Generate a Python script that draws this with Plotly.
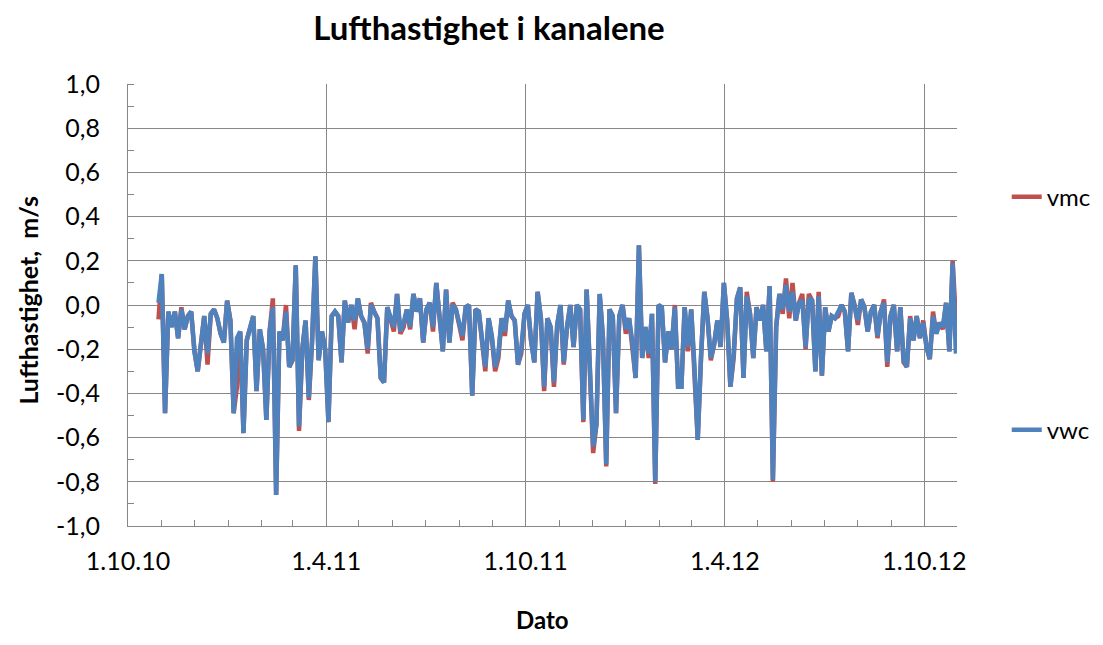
import pandas as pd
import plotly.graph_objects as go

# Dagsverdier lest av figuren, hver 3. dag fra 29.10.2010
start_date = "2010-10-29"
step = "3D"

vwc = [
    0.01, 0.14, -0.49, -0.03, -0.10, -0.03, -0.15, -0.02, -0.11, -0.05,
    -0.03, -0.21, -0.30, -0.18, -0.05, -0.22, -0.04, -0.02, -0.06, -0.13,
    -0.17, 0.02, -0.07, -0.49, -0.15, -0.12, -0.58, -0.16, -0.10, -0.05,
    -0.39, -0.11, -0.20, -0.52, -0.12, -0.01, -0.86, -0.12, -0.16, -0.03,
    -0.28, -0.25, 0.18, -0.55, -0.20, -0.07, -0.42, -0.16, 0.22, -0.25,
    -0.12, -0.20, -0.53, -0.05, -0.03, -0.05, -0.26, 0.02, -0.08, 0.00,
    -0.07, 0.03, -0.05, -0.08, -0.20, 0.00, -0.03, -0.06, -0.33, -0.35,
    -0.01, -0.06, -0.10, 0.05, -0.12, -0.08, -0.02, -0.10, 0.05, -0.03,
    0.03, -0.17, -0.02, 0.01, -0.10, 0.10, -0.04, -0.21, 0.07, -0.17,
    0.00, -0.02, -0.08, -0.14, -0.01, 0.00, -0.41, -0.02, -0.03, -0.16,
    -0.28, -0.06, -0.14, -0.28, -0.22, -0.06, -0.12, 0.02, -0.05, -0.07,
    -0.27, -0.20, -0.04, 0.00, -0.16, -0.26, 0.06, -0.06, -0.37, -0.06,
    -0.10, -0.35, -0.09, 0.00, -0.26, -0.10, 0.00, -0.19, 0.00, -0.02,
    -0.52, 0.07, -0.27, -0.64, -0.54, 0.05, -0.15, -0.72, -0.02, -0.05,
    -0.49, -0.05, 0.00, -0.11, -0.06, -0.17, -0.33, 0.27, -0.24, -0.10,
    -0.22, -0.04, -0.80, 0.00, -0.01, -0.26, -0.12, -0.20, -0.01, -0.37,
    -0.37, -0.01, -0.19, -0.02, -0.28, -0.61, -0.24, 0.06, -0.06, -0.24,
    -0.18, -0.07, -0.19, 0.10, -0.07, -0.37, -0.22, 0.03, 0.08, -0.33,
    0.04, -0.04, -0.24, -0.01, -0.07, 0.00, -0.21, 0.085, -0.79, -0.10,
    0.05, -0.02, 0.09, -0.03, 0.06, -0.07, 0.01, 0.02, -0.19, 0.03,
    0.02, -0.30, 0.04, -0.32, -0.01, -0.12, -0.05, -0.06, -0.03, 0.00,
    -0.03, -0.21, 0.055, 0.00, -0.07, 0.025, -0.01, -0.12, -0.03, 0.00,
    -0.14, -0.03, 0.01, -0.26, -0.05, 0.00, -0.21, -0.01, -0.25, -0.28,
    -0.06, -0.16, -0.05, -0.15, -0.08, -0.19, -0.245, -0.05, -0.13, -0.08,
    -0.10, 0.01, -0.21, 0.19, -0.22,
]

vmc = [
    -0.065, 0.14, -0.49, -0.03, -0.10, -0.03, -0.15, -0.01, -0.11, -0.05,
    -0.03, -0.21, -0.30, -0.18, -0.05, -0.27, -0.04, -0.02, -0.06, -0.13,
    -0.17, 0.02, -0.07, -0.49, -0.37, -0.12, -0.58, -0.16, -0.10, -0.05,
    -0.39, -0.11, -0.20, -0.52, -0.12, 0.03, -0.86, -0.12, -0.16, 0.00,
    -0.28, -0.25, 0.18, -0.57, -0.20, -0.07, -0.43, -0.16, 0.22, -0.25,
    -0.12, -0.20, -0.53, -0.05, -0.03, -0.05, -0.26, 0.02, -0.08, 0.00,
    -0.11, 0.03, -0.05, -0.08, -0.22, 0.01, -0.03, -0.06, -0.33, -0.35,
    -0.01, -0.06, -0.12, 0.05, -0.13, -0.10, -0.02, -0.11, 0.05, -0.03,
    0.03, -0.17, -0.02, 0.01, -0.12, 0.10, -0.04, -0.21, 0.07, -0.17,
    0.01, -0.02, -0.09, -0.16, -0.01, 0.00, -0.41, -0.02, -0.03, -0.18,
    -0.30, -0.06, -0.15, -0.30, -0.24, -0.06, -0.14, 0.02, -0.05, -0.07,
    -0.27, -0.22, -0.04, 0.00, -0.16, -0.26, 0.06, -0.06, -0.39, -0.06,
    -0.10, -0.37, -0.09, 0.00, -0.27, -0.10, 0.00, -0.19, 0.00, -0.02,
    -0.53, 0.07, -0.28, -0.67, -0.54, 0.05, -0.15, -0.73, -0.02, -0.05,
    -0.49, -0.05, 0.00, -0.13, -0.06, -0.19, -0.33, 0.27, -0.24, -0.10,
    -0.24, -0.04, -0.81, 0.00, -0.01, -0.26, -0.12, -0.20, 0.00, -0.37,
    -0.37, -0.01, -0.21, -0.02, -0.31, -0.61, -0.24, 0.06, -0.06, -0.25,
    -0.18, -0.07, -0.19, 0.10, -0.07, -0.37, -0.24, 0.03, 0.08, -0.33,
    0.06, -0.04, -0.24, -0.01, -0.07, 0.00, -0.21, 0.085, -0.80, -0.10,
    0.05, -0.04, 0.12, -0.06, 0.10, -0.07, 0.01, 0.05, -0.20, 0.05,
    0.02, -0.30, 0.06, -0.32, -0.01, -0.12, -0.05, -0.06, -0.05, 0.00,
    -0.03, -0.21, 0.055, 0.00, -0.09, 0.025, -0.01, -0.12, -0.03, 0.00,
    -0.15, -0.03, 0.025, -0.28, -0.05, 0.00, -0.21, -0.01, -0.26, -0.28,
    -0.05, -0.16, -0.05, -0.15, -0.07, -0.19, -0.245, -0.03, -0.13, -0.08,
    -0.11, 0.01, -0.21, 0.20, -0.07,
]

dates = pd.date_range(start_date, periods=len(vwc), freq=step)

y_ticks = [-1.0, -0.8, -0.6, -0.4, -0.2, 0.0, 0.2, 0.4, 0.6, 0.8, 1.0]
y_labels = ["-1,0", "-0,8", "-0,6", "-0,4", "-0,2", "0,0", "0,2", "0,4", "0,6", "0,8", "1,0"]

FONT = "Lato"
GRID = "#878787"

fig = go.Figure()
fig.add_trace(go.Scatter(
    x=dates, y=vmc, name="vmc", mode="lines",
    line=dict(color="#C0504D", width=4.5), legend="legend", showlegend=True,
))
fig.add_trace(go.Scatter(
    x=dates, y=vwc, name="vwc", mode="lines",
    line=dict(color="#4F81BD", width=4.5), legend="legend2", showlegend=True,
))

# siden har 8 px kant i body, så figuren er 16 px mindre enn vinduet
fig.update_layout(
    width=1087,
    height=629,
    showlegend=True,
    paper_bgcolor="white",
    plot_bgcolor="white",
    margin=dict(l=120, r=138, t=76, b=111, autoexpand=False),
    font=dict(family=FONT, size=25, color="#000000"),
    title=dict(
        text="Lufthastighet i kanalene",
        x=0.4425, xref="container", xanchor="center",
        y=0.968, yref="container", yanchor="middle",
        font=dict(family=FONT, size=33, color="#000000", weight=700),
    ),
    xaxis=dict(
        type="date",
        range=["2010-10-01", "2012-10-31"],
        tick0="2010-10-01",
        dtick="M6",
        tickformat="%-d.%-m.%y",
        ticks="",
        ticklabelstandoff=13,
        showgrid=True,
        gridcolor=GRID,
        gridwidth=1,
        showline=True,
        linecolor=GRID,
        linewidth=1,
        zeroline=False,
        minor=dict(ticks="inside", dtick="M1", tick0="2010-10-01",
                   ticklen=6, tickcolor=GRID, showgrid=False),
    ),
    yaxis=dict(
        range=[-1.0, 1.0],
        tickmode="array",
        tickvals=y_ticks,
        ticktext=y_labels,
        ticks="",
        ticklabelstandoff=22,
        showgrid=True,
        gridcolor=GRID,
        gridwidth=1,
        showline=True,
        linecolor=GRID,
        linewidth=1,
        zeroline=False,
        minor=dict(ticks="inside", dtick=0.1, tick0=0, ticklen=6,
                   tickcolor=GRID, showgrid=False),
    ),
    legend=dict(
        visible=True,
        x=1.06, y=0.744, xanchor="left", yanchor="middle",
        bgcolor="rgba(0,0,0,0)", font=dict(family=FONT, size=24),
    ),
    legend2=dict(
        visible=True,
        x=1.06, y=0.217, xanchor="left", yanchor="middle",
        bgcolor="rgba(0,0,0,0)", font=dict(family=FONT, size=24),
    ),
    annotations=[
        dict(text="Lufthastighet,  m/s", textangle=-90,
             x=-0.1206, y=0.51, xref="paper", yref="paper",
             xanchor="center", yanchor="middle", showarrow=False,
             font=dict(family=FONT, size=25, color="#000000", weight=700)),
        dict(text="Dato",
             x=0.5, y=-0.212, xref="paper", yref="paper",
             xanchor="center", yanchor="middle", showarrow=False,
             font=dict(family=FONT, size=24, color="#000000", weight=700)),
    ],
)

fig.write_html("out.html")
